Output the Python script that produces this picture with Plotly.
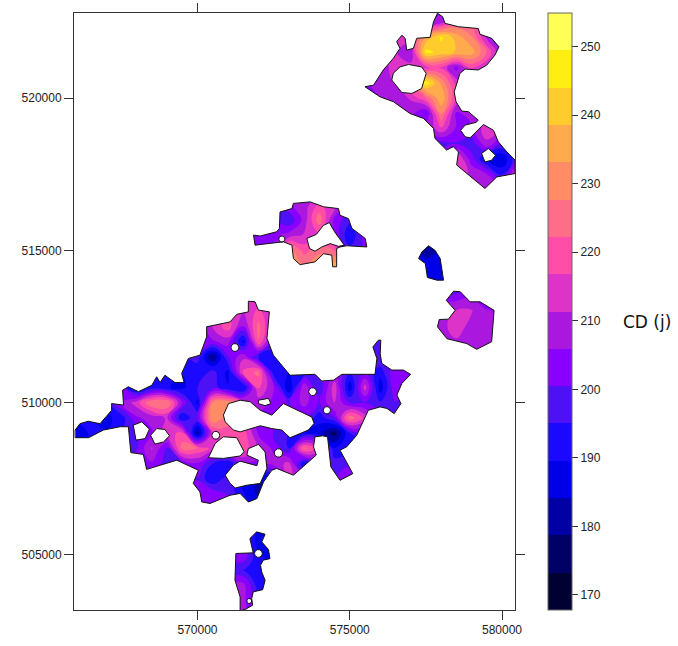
import numpy as np
import plotly.graph_objects as go

# Axis window (metres)
X_RANGE = [565944, 580427]
Y_RANGE = [503194, 522790]
X_TICKS = [570000, 575000, 580000]
Y_TICKS = [505000, 510000, 515000, 520000]
CBAR_TICKS = [170, 180, 190, 200, 210, 220, 230, 240, 250]

# Colour bands of the legend, low to high
Z_MIN, Z_MAX = 167.8, 254.9
BANDS = ["#000033", "#000066", "#0000A4", "#0000E8", "#1A08FF", "#4E10F5", "#8A00FF", "#AA18E0",
         "#DD33C8", "#FF4DA8", "#FF6E88", "#FF8C66", "#FFAA4D", "#FFCC2E", "#FFEE11", "#FFFF55"]

# Grid of CD values (km)
GRID_X = [566 + 0.5 * i for i in range(30)]
GRID_Y = [523 - 0.5 * j for j in range(41)]
D = 200
Z_ROWS = [
 [D,D,D,D,D,D,D,D,D,D,D,D,D,D,D,D,D,D,D,D,D,D,D,D,205,220,220,D,D,D],
 [D,D,D,D,D,D,D,D,D,D,D,D,D,D,D,D,D,D,D,D,D,212,212,205,208,222,225,205,200,D],
 [D,D,D,D,D,D,D,D,D,D,D,D,D,D,D,D,D,D,D,D,210,212,215,234,245,236,228,210,195,195],
 [D,D,D,D,D,D,D,D,D,D,D,D,D,D,D,D,D,D,D,205,210,212,206,246,242,238,236,222,205,205],
 [D,D,D,D,D,D,D,D,D,D,D,D,D,D,D,D,D,D,D,205,208,214,214,214,216,204,218,212,208,208],
 [D,D,D,D,D,D,D,D,D,D,D,D,D,D,D,D,D,D,D,205,208,212,225,248,232,214,205,205,D,D],
 [D,D,D,D,D,D,D,D,D,D,D,D,D,D,D,D,D,D,D,205,206,208,212,222,238,216,205,205,D,D],
 [D,D,D,D,D,D,D,D,D,D,D,D,D,D,D,D,D,D,D,D,206,206,208,200,228,205,208,208,D,D],
 [D,D,D,D,D,D,D,D,D,D,D,D,D,D,D,D,D,D,D,D,D,205,205,205,216,205,205,215,210,210],
 [D,D,D,D,D,D,D,D,D,D,D,D,D,D,D,D,D,D,D,D,D,D,198,198,198,200,197,210,200,200],
 [D,D,D,D,D,D,D,D,D,D,D,D,D,D,D,D,D,D,D,D,D,D,D,200,205,218,203,188,184,200],
 [D,D,D,D,D,D,D,D,D,D,D,D,D,D,D,D,D,D,D,D,D,D,D,D,210,215,210,206,194,215],
 [D,D,D,D,D,D,D,D,D,D,D,D,D,D,D,D,D,D,D,D,D,D,D,D,210,210,210,210,205,210],
 [D,D,D,D,D,D,D,D,D,D,D,D,D,D,205,208,218,212,203,203,D,D,D,D,D,D,D,D,D,D],
 [D,D,D,D,D,D,D,D,D,D,D,D,D,200,196,208,226,204,197,197,D,D,D,D,D,D,D,D,D,D],
 [D,D,D,D,D,D,D,D,D,D,D,203,203,204,208,212,215,205,190,203,D,D,D,D,D,D,D,D,D,D],
 [D,D,D,D,D,D,D,D,D,D,D,203,203,205,230,220,226,222,197,200,D,D,D,178,184,184,D,D,D,D],
 [D,D,D,D,D,D,D,D,D,D,D,D,D,215,228,228,232,236,220,D,D,D,D,190,188,188,D,D,D,D],
 [D,D,D,D,D,D,D,D,D,D,D,D,D,D,225,225,232,236,D,D,D,D,D,188,186,186,D,D,D,D],
 [D,D,D,D,D,D,D,D,D,D,D,212,212,212,D,D,D,D,D,D,D,D,D,D,203,203,205,205,D,D],
 [D,D,D,D,D,D,D,D,D,212,216,212,218,212,D,D,D,D,D,D,D,D,D,205,208,212,212,206,206,D],
 [D,D,D,D,D,D,D,D,D,212,220,205,224,208,D,D,D,D,D,D,D,D,D,208,208,216,208,206,206,D],
 [D,D,D,D,D,D,D,D,205,205,208,188,222,200,D,D,D,D,D,D,D,D,D,208,208,210,208,210,208,D],
 [D,D,D,D,D,D,D,195,198,178,200,210,194,190,192,D,D,D,D,D,D,D,D,D,206,206,206,206,D,D],
 [D,D,D,D,D,190,190,190,190,197,188,218,224,192,190,195,200,205,195,200,192,205,205,D,D,D,D,D,D,D],
 [D,D,D,200,186,192,190,188,195,198,190,188,218,206,184,210,195,215,186,214,186,205,200,D,D,D,D,D,D,D],
 [190,190,195,206,214,228,228,205,188,228,232,215,208,205,200,208,200,212,200,200,196,200,D,D,D,D,D,D,D,D],
 [190,190,188,192,205,208,212,190,200,233,225,215,205,205,200,200,192,200,226,215,205,D,D,D,D,D,D,D,D,D],
 [188,190,190,195,200,205,215,218,180,215,220,220,205,200,195,190,186,176,195,200,D,D,D,D,D,D,D,D,D,D],
 [188,190,190,200,200,212,200,225,222,215,218,220,210,205,195,224,215,190,192,192,D,D,D,D,D,D,D,D,D,D],
 [D,D,D,200,203,205,198,200,205,195,190,205,205,208,213,190,200,198,200,D,D,D,D,D,D,D,D,D,D,D],
 [D,D,D,D,D,200,200,200,200,190,198,190,183,190,213,205,200,200,203,D,D,D,D,D,D,D,D,D,D,D],
 [D,D,D,D,D,D,D,205,205,205,200,190,183,190,D,D,D,D,D,D,D,D,D,D,D,D,D,D,D,D],
 [D,D,D,D,D,D,D,D,205,205,205,195,190,D,D,D,D,D,D,D,D,D,D,D,D,D,D,D,D,D],
 [D,D,D,D,D,D,D,D,D,D,D,195,190,188,D,D,D,D,D,D,D,D,D,D,D,D,D,D,D,D],
 [D,D,D,D,D,D,D,D,D,D,195,195,188,188,D,D,D,D,D,D,D,D,D,D,D,D,D,D,D,D],
 [D,D,D,D,D,D,D,D,D,D,205,205,190,188,D,D,D,D,D,D,D,D,D,D,D,D,D,D,D,D],
 [D,D,D,D,D,D,D,D,D,D,195,195,190,190,D,D,D,D,D,D,D,D,D,D,D,D,D,D,D,D],
 [D,D,D,D,D,D,D,D,D,D,208,208,192,192,D,D,D,D,D,D,D,D,D,D,D,D,D,D,D,D],
 [D,D,D,D,D,D,D,D,D,D,208,208,195,195,D,D,D,D,D,D,D,D,D,D,D,D,D,D,D,D],
 [D,D,D,D,D,D,D,D,D,D,208,208,200,200,D,D,D,D,D,D,D,D,D,D,D,D,D,D,D,D],
]

# Region outlines (km)
REGION_NE = [(577.88,522.78),(578.05,522.67),(578.13,522.45),(578.57,522.34),(579.22,522.28),(579.28,522.09),
 (579.66,521.96),(579.90,521.68),(579.77,521.41),(579.50,521.08),(579.22,520.92),(578.79,520.95),(578.62,520.81),
 (578.51,520.42),(578.43,520.20),(578.49,519.88),(578.68,519.57),(578.90,519.55),(579.22,519.27),(579.15,519.20),
 (578.79,519.11),(578.64,518.94),(578.79,518.73),(578.95,518.69),(579.22,518.94),(579.39,519.13),(579.72,518.94),
 (579.88,518.56),(580.16,518.23),(580.43,517.96),(580.43,517.52),(580.16,517.47),(579.83,517.41),(579.44,517.03),
 (578.84,517.52),(578.51,517.80),(578.57,518.23),(578.40,518.40),(578.18,518.29),(577.80,518.67),(577.75,519.00),
 (577.42,519.33),(576.98,519.49),(576.43,519.88),(575.99,520.04),(575.50,520.37),(575.78,520.42),(576.10,520.92),
 (576.43,521.30),(576.65,521.63),(576.54,521.85),(576.71,522.06),(576.82,521.96),(576.87,521.57),(577.09,521.63),
 (577.20,521.96),(577.64,521.99),(577.75,522.50)]
REGION_MID = [(571.84,515.50),(572.06,515.47),(572.60,515.61),(572.69,515.72),(572.71,516.26),(573.10,516.37),
 (573.15,516.54),(573.70,516.59),(574.14,516.43),(574.63,516.37),(574.68,516.15),(574.96,516.04),(575.07,515.72),
 (575.51,515.39),(575.56,515.11),(574.90,515.15),(574.68,515.11),(574.57,515.06),(574.57,514.46),(574.44,514.46),
 (574.41,514.84),(574.14,514.89),(573.86,514.62),(573.37,514.53),(573.15,514.73),(573.10,515.17),(572.82,515.28),
 (572.33,515.22),(571.89,515.17)]
REGION_BLUE = [(577.59,515.15),(577.80,515.00),(577.97,514.73),(578.02,514.35),(578.08,514.02),(577.86,514.02),
 (577.55,514.11),(577.48,514.57),(577.26,514.73),(577.37,514.95)]
REGION_EAST = [(578.41,513.66),(578.63,513.64),(578.95,513.31),(579.28,513.31),(579.74,513.03),(579.66,512.00),
 (579.17,511.75),(578.84,511.94),(578.19,512.10),(577.88,512.49),(577.94,512.73),(578.24,512.74),(578.46,513.03),
 (578.17,513.36)]
REGION_MAIN = [(565.98,509.10),(566.14,509.31),(566.41,509.39),(566.80,509.31),(567.18,509.75),(567.18,509.97),
 (567.57,509.92),(567.54,510.41),(567.73,510.52),(568.06,510.36),(568.50,510.57),(568.66,510.85),(568.77,510.66),
 (568.93,510.90),(569.26,510.66),(569.56,510.66),(569.48,510.96),(569.70,511.45),(570.08,511.56),(570.30,512.16),
 (570.30,512.49),(571.07,512.65),(571.29,512.90),(571.67,512.98),(571.67,513.33),(571.89,513.31),(572.00,513.04),
 (572.36,512.98),(572.28,512.11),(572.49,511.56),(573.04,510.90),(573.86,510.93),(574.08,510.71),(574.47,510.74),
 (574.74,510.93),(575.83,510.93),(575.89,511.45),(575.76,511.83),(575.94,512.05),(576.02,512.05),(576.00,511.61),
 (576.05,511.29),(576.38,511.07),(576.76,511.07),(577.00,510.93),(576.71,510.63),(576.55,510.25),(576.68,509.97),
 (576.46,509.64),(576.22,509.81),(576.00,509.86),(575.61,509.75),(575.23,508.93),(574.90,508.55),(574.68,508.44),
 (575.10,507.67),(574.68,507.45),(574.38,507.89),(574.27,508.88),(574.11,508.91),(573.86,508.88),(573.81,508.55),
 (573.90,508.28),(573.15,507.62),(572.60,507.84),(572.44,507.78),(572.17,507.40),(571.95,506.85),(571.67,506.74),
 (571.40,507.02),(571.07,506.96),(570.41,506.69),(570.14,506.74),(570.08,507.07),(569.86,507.35),(570.03,507.78),
 (569.32,508.11),(568.33,507.81),(568.22,508.30),(567.81,508.36),(567.73,509.21),(567.46,509.21),(566.91,509.10),
 (566.42,508.85),(565.98,508.85)]
REGION_SOUTH = [(571.94,505.76),(572.22,505.68),(572.11,505.43),(572.33,505.18),(572.38,504.88),(572.16,504.83),
 (572.07,504.66),(572.11,504.44),(572.22,504.17),(572.14,503.86),(571.83,503.79),(571.78,503.57),(571.81,503.35),
 (571.56,503.21),(571.40,503.16),(571.40,503.62),(571.23,504.17),(571.26,505.05),(571.83,505.07),(571.72,505.54)]
REGIONS = [REGION_NE, REGION_MID, REGION_BLUE, REGION_EAST, REGION_MAIN, REGION_SOUTH]

HOLES = [
 [(576.93,521.10),(577.36,521.02),(577.51,520.81),(577.36,520.31),(577.04,520.15),(576.71,520.18),(576.38,520.59),(576.43,520.81),(576.65,521.02)],
 [(579.55,518.34),(579.79,518.12),(579.66,517.96),(579.44,517.90),(579.33,518.18)],
 [(574.33,515.91),(574.50,515.61),(574.82,515.17),(574.63,515.13),(574.36,515.22),(574.08,515.11),(573.86,514.97),(573.68,515.06),(573.59,515.39),(573.90,515.52),(574.14,515.82)],
 [(570.85,509.59),(571.02,509.97),(571.40,510.08),(571.73,510.03),(572.06,509.75),(572.44,509.59),(572.82,509.97),(573.75,509.53),(573.83,509.32),(573.64,509.10),(573.04,508.85),(572.77,509.10),(572.44,509.15),(572.06,509.24),(571.40,509.04),(571.18,509.10),(570.91,509.37)],
 [(572.00,510.08),(572.33,510.14),(572.41,509.97),(572.22,509.90),(572.00,509.97)],
 [(567.89,509.26),(568.17,509.37),(568.42,509.13),(568.28,508.82),(567.98,508.77)],
 [(568.46,508.93),(568.66,509.15),(568.93,509.12),(569.08,508.91),(568.88,508.71),(568.60,508.64)],
 [(570.36,508.19),(570.58,508.66),(570.85,508.88),(571.29,508.85),(571.53,508.39),(571.40,508.25),(570.85,508.17)],
 [(570.91,507.62),(571.18,507.95),(571.40,508.08),(571.95,507.93),(572.00,508.11),(571.62,508.28),(571.67,508.49),(572.00,508.63),(572.22,508.38),(572.28,507.84),(572.06,507.35),(571.62,507.29),(571.24,507.20),(571.07,507.35)],
]
ROUND_HOLES = [(572.77,515.37,0.10),(573.78,510.36,0.13),(574.25,509.75,0.12),(572.66,508.35,0.14),
               (571.23,511.81,0.13),(570.60,508.93,0.13),(572.00,505.05,0.13),(571.70,503.49,0.08)]


def ring(cx, cy, r):
    t = np.arange(10) * 2 * np.pi / 10
    return [(cx + r * np.cos(a), cy + r * np.sin(a)) for a in t]


def oriented(poly, ccw):
    p = np.array(poly)
    area = np.sum(p[:, 0] * np.roll(p[:, 1], -1) - np.roll(p[:, 0], -1) * p[:, 1])
    return list(poly) if (area > 0) == ccw else list(poly)[::-1]


all_holes = HOLES + [ring(*h) for h in ROUND_HOLES]


def path(polys):
    xs, ys = [], []
    for poly in polys:
        closed = list(poly) + [poly[0]]
        xs += [p[0] * 1000 for p in closed] + [None]
        ys += [p[1] * 1000 for p in closed] + [None]
    return xs, ys


W, H = 678, 646
L, R, T, B = 74, 515, 13, 610

colorscale = []
for i, c in enumerate(BANDS):
    colorscale += [[i / len(BANDS), c], [(i + 1) / len(BANDS), c]]

fig = go.Figure()
fig.add_trace(go.Contour(
    x=[v * 1000 for v in GRID_X], y=[v * 1000 for v in GRID_Y], z=Z_ROWS,
    zmin=Z_MIN, zmax=Z_MAX, colorscale=colorscale, hoverinfo="skip",
    autocontour=False,
    contours=dict(coloring="fill", start=Z_MIN, end=Z_MAX, size=(Z_MAX - Z_MIN) / len(BANDS), showlines=False),
    line=dict(width=0, smoothing=1.3),
    colorbar=dict(
        x=548 / W, xanchor="left", xpad=0, y=(H - B) / H, yanchor="bottom", ypad=0, len=(B - T) / H,
        thickness=24, tickvals=CBAR_TICKS, ticks="outside", ticklen=6, tickcolor="#333333",
        tickfont=dict(family="Liberation Sans", size=12, color="#222222"),
        outlinecolor="#666666", outlinewidth=1, borderwidth=0),
))

# White cover over everything outside the regions, with inner holes left covered
rect = [(X_RANGE[0] / 1000 - 1, Y_RANGE[0] / 1000 - 1), (X_RANGE[1] / 1000 + 1, Y_RANGE[0] / 1000 - 1),
        (X_RANGE[1] / 1000 + 1, Y_RANGE[1] / 1000 + 1), (X_RANGE[0] / 1000 - 1, Y_RANGE[1] / 1000 + 1)]
cover = [oriented(rect, True)] + [oriented(r, False) for r in REGIONS] + [oriented(h, True) for h in all_holes]
mx, my = path(cover)
fig.add_trace(go.Scatter(x=mx, y=my, mode="lines", fill="toself", fillcolor="white",
                         line=dict(width=0), hoverinfo="skip", showlegend=False))
ox, oy = path(REGIONS + all_holes)
fig.add_trace(go.Scatter(x=ox, y=oy, mode="lines", line=dict(color="#111111", width=1),
                         hoverinfo="skip", showlegend=False))

axis = dict(showgrid=False, zeroline=False, showline=True, linecolor="#333333", linewidth=1,
            mirror="ticks", ticks="outside", ticklen=9, tickcolor="#333333", tickformat="d",
            tickfont=dict(family="Liberation Sans", size=12, color="#222222"))
fig.update_xaxes(range=X_RANGE, tickvals=X_TICKS, domain=[L / W, R / W], **axis)
fig.update_yaxes(range=Y_RANGE, tickvals=Y_TICKS, domain=[(H - B) / H, (H - T) / H], **axis)
fig.add_annotation(text="CD (j)", xref="paper", yref="paper", x=647 / W, y=1 - 322 / H,
                   xanchor="center", yanchor="middle", showarrow=False,
                   font=dict(family="DejaVu Sans", size=17, color="#111111"))
fig.update_layout(width=W, height=H, margin=dict(l=0, r=0, t=0, b=0, autoexpand=False),
                  paper_bgcolor="white", plot_bgcolor="white", showlegend=False)
fig.write_html("out.html", post_script="document.body.style.margin='0';",
               config={"displayModeBar": False})
